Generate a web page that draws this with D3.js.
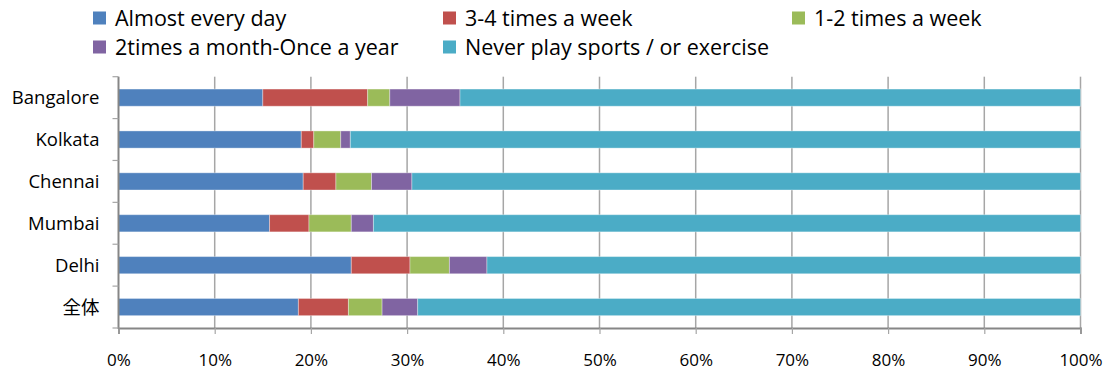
<!DOCTYPE html>
<html>
<head>
<meta charset="utf-8">
<script src="https://cdn.jsdelivr.net/npm/d3@7"></script>
<style>
  html, body { margin: 0; padding: 0; background: #fff; }
  svg text { font-family: "Open Sans", "Noto Sans", "Noto Sans CJK JP", sans-serif; fill: #000; }
</style>
</head>
<body>
<svg id="chart" width="1110" height="370"></svg>
<script>
// Cities (top to bottom) and share of respondents per exercise frequency (%)
const categories = ["Bangalore", "Kolkata", "Chennai", "Mumbai", "Delhi", "全体"];
const seriesNames = [
  "Almost every day",
  "3-4 times a week",
  "1-2 times a week",
  "2times a month-Once a year",
  "Never play sports / or exercise"
];
const almostEveryDay = [15.0, 19.0, 19.2, 15.7, 24.2, 18.7];
const threeFourWeek  = [10.9, 1.3, 3.4, 4.1, 6.1, 5.2];
const oneTwoWeek     = [2.3, 2.8, 3.7, 4.4, 4.1, 3.5];
const monthToYear    = [7.3, 1.0, 4.2, 2.3, 3.9, 3.7];
const never          = [64.5, 75.9, 69.5, 73.5, 61.7, 68.9];
const tickValues = [0, 10, 20, 30, 40, 50, 60, 70, 80, 90, 100];
const colors = ["#4F81BD", "#C0504D", "#9BBB59", "#8064A2", "#4BACC6"];

const seriesValues = [almostEveryDay, threeFourWeek, oneTwoWeek, monthToYear, never];
const rows = categories.map((c, i) => {
  const r = { city: c };
  seriesNames.forEach((s, k) => { r[s] = seriesValues[k][i]; });
  return r;
});

const svg = d3.select("#chart");
const plotLeft = 118.5, plotRight = 1080.5, plotTop = 76.7, plotBottom = 328;

const x = d3.scaleLinear().domain([0, 100]).range([plotLeft, plotRight]);
const y = d3.scaleBand().domain(categories).range([plotTop, plotBottom])
  .paddingInner(0.59).paddingOuter(0.295);

// vertical gridlines
svg.append("g").selectAll("line")
  .data(tickValues.slice(1))
  .join("line")
  .attr("x1", d => x(d)).attr("x2", d => x(d))
  .attr("y1", plotTop).attr("y2", plotBottom)
  .attr("stroke", "#a6a6a6").attr("stroke-width", 1.5);

// stacked bars
const stacked = d3.stack().keys(seriesNames)(rows);
svg.append("g").selectAll("g")
  .data(stacked)
  .join("g")
  .attr("fill", (d, i) => colors[i])
  .selectAll("rect")
  .data(d => d)
  .join("rect")
  .attr("x", d => x(d[0]))
  .attr("width", d => x(d[1]) - x(d[0]))
  .attr("y", d => y(d.data.city))
  .attr("height", y.bandwidth())
  .attr("stroke", "#ffffff").attr("stroke-opacity", 0.35).attr("stroke-width", 1);

// bottom axis
const xAxis = svg.append("g")
  .attr("transform", `translate(0,${plotBottom})`)
  .call(d3.axisBottom(x).tickValues(tickValues).tickFormat(d => d + "%").tickSize(6).tickPadding(20));
xAxis.select(".domain").attr("stroke", "#868686").attr("stroke-width", 2);
xAxis.selectAll(".tick line").attr("stroke", "#a6a6a6").attr("stroke-width", 1.2);
xAxis.selectAll(".tick text").attr("font-size", 17).attr("fill", "#000")
  .attr("font-family", "'Open Sans', sans-serif");

// left axis with ticks between categories
const yAxisG = svg.append("g").attr("transform", `translate(${plotLeft},0)`);
yAxisG.append("line")
  .attr("x1", 0).attr("x2", 0).attr("y1", plotTop).attr("y2", plotBottom + 1)
  .attr("stroke", "#868686").attr("stroke-width", 2);
const boundaries = d3.range(categories.length + 1)
  .map(i => plotTop + i * (plotBottom - plotTop) / categories.length);
yAxisG.selectAll("line.tk")
  .data(boundaries)
  .join("line").attr("class", "tk")
  .attr("x1", -6).attr("x2", 0)
  .attr("y1", d => d).attr("y2", d => d)
  .attr("stroke", "#a6a6a6").attr("stroke-width", 1.2);
yAxisG.selectAll("text.lbl")
  .data(categories)
  .join("text").attr("class", "lbl")
  .attr("x", -19)
  .attr("y", d => y(d) + y.bandwidth() / 2)
  .attr("dy", "0.35em")
  .attr("text-anchor", "end")
  .attr("font-size", 18.5)
  .text(d => d);

// legend
const legendPos = [[93, 18], [443, 18], [792, 18], [93, 47], [443, 47]];
const legend = svg.append("g");
seriesNames.forEach((s, i) => {
  const [lx, ly] = legendPos[i];
  legend.append("rect")
    .attr("x", lx).attr("y", ly - 6.5).attr("width", 13).attr("height", 13)
    .attr("fill", colors[i]);
  legend.append("text")
    .attr("x", lx + 22).attr("y", ly).attr("dy", "0.35em")
    .attr("font-size", 21.5)
    .text(s);
});
</script>
</body>
</html>
